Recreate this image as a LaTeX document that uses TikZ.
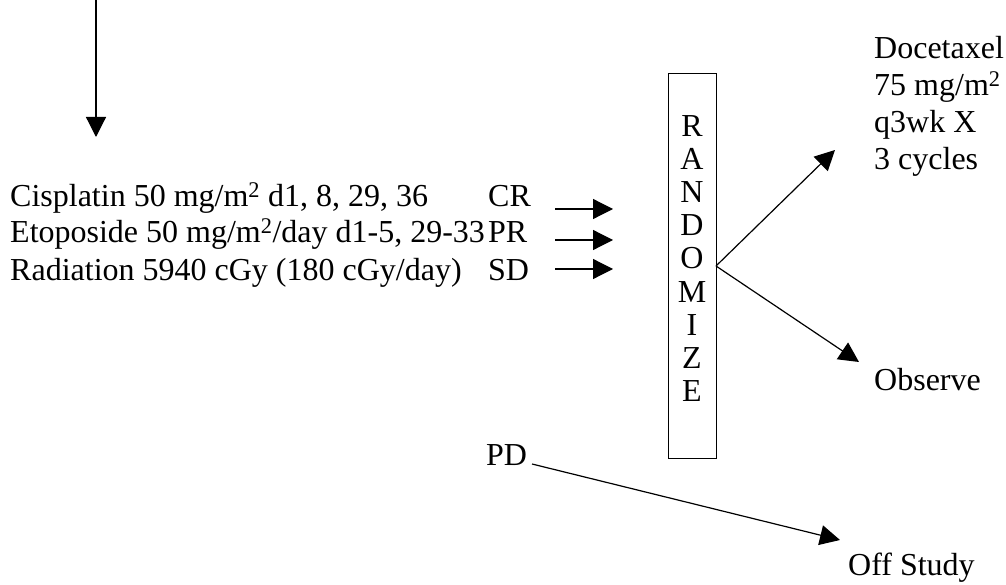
\documentclass[tikz,border=0pt]{standalone}
\usepackage{fontspec}
\setmainfont{Liberation Serif}
\usetikzlibrary{arrows.meta}
\begin{document}
\begin{tikzpicture}[x=1pt,y=-1pt,
  txt/.style={anchor=base west,inner sep=0pt,font=\fontsize{32}{36}\selectfont},
  arr/.style={line width=1.2pt,-{Triangle[length=20pt,width=20pt]}},
  ln/.style={line width=1.2pt}]
\useasboundingbox (0,0) rectangle (1006,585);
% top arrow
\coordinate (topA) at (96,0);
\coordinate (topB) at (96,137);
\draw[arr] (topA) -- (topB);
% treatment text
\node[txt] (l1) at (10,207) {Cisplatin 50 mg/m\textsuperscript{2} d1, 8, 29, 36};
\node[txt] (l2) at (10,243) {Etoposide 50 mg/m\textsuperscript{2}/day d1-5, 29-33};
\node[txt] (l3) at (10,280) {Radiation 5940 cGy (180 cGy/day)};
\node[txt] (cr) at (488,207) {CR};
\node[txt] (pr) at (488,243) {PR};
\node[txt] (sd) at (488,280) {SD};
% small arrows
\coordinate (a1s) at (555,209); \coordinate (a1e) at (613,209);
\coordinate (a2s) at (555,240); \coordinate (a2e) at (613,240);
\coordinate (a3s) at (555,269); \coordinate (a3e) at (613,269);
\draw[arr] (a1s) -- (a1e);
\draw[arr] (a2s) -- (a2e);
\draw[arr] (a3s) -- (a3e);
% randomize box
\node[draw,line width=1pt,minimum width=48pt,minimum height=384pt,inner sep=0pt] (box) at (692,266) {};
\foreach \l [count=\i] in {R,A,N,D,O,M,I,Z,E}{
  \node[anchor=base,inner sep=0pt,font=\fontsize{32}{36}\selectfont] at (692,104+\i*33) {\l};
}
\coordinate (split) at (716,266);
\coordinate (upTip) at (835,150);
\coordinate (dnTip) at (859,362);
\draw[arr] (split) -- (upTip);
\draw[arr] (split) -- (dnTip);
% right texts
\node[txt] (d1) at (874,59) {Docetaxel};
\node[txt] (d2) at (874,96) {75 mg/m\textsuperscript{2}};
\node[txt] (d3) at (874,133) {q3wk X};
\node[txt] (d4) at (874,170) {3 cycles};
\node[txt] (obs) at (874,390) {Observe};
% PD
\node[txt] (pd) at (486,465) {PD};
\coordinate (pdS) at (532,464);
\coordinate (offT) at (840,540);
\draw[arr] (pdS) -- (offT);
\node[txt] (off) at (848,575) {Off Study};
\end{tikzpicture}
\end{document}
